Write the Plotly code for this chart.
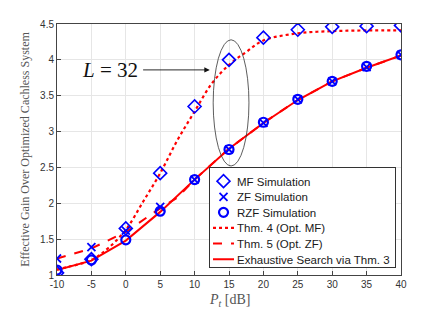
import plotly.graph_objects as go

pt_db = [-10, -5, 0, 5, 10, 15, 20, 25, 30, 35, 40]
mf_sim = [1.03, 1.22, 1.65, 2.42, 3.35, 4.00, 4.31, 4.42, 4.46, 4.47, 4.48]
zf_sim = [1.23, 1.39, 1.62, 1.95, 2.33, 2.75, 3.12, 3.45, 3.70, 3.90, 4.07]
rzf_sim = [1.07, 1.21, 1.49, 1.89, 2.33, 2.75, 3.13, 3.45, 3.70, 3.91, 4.07]

thm4_x = [-10, -5, -2.5, 0, 2.5, 5, 7.5, 10, 12.5, 15, 17.5, 20, 25, 30, 35, 40]
thm4_y = [1.08, 1.21, 1.38, 1.63, 2.02, 2.42, 2.88, 3.28, 3.67, 3.93, 4.11, 4.27, 4.37, 4.40, 4.41, 4.41]
thm5_x = [-10, -5, 0, 5, 7.5, 10, 15, 20, 25, 30, 35, 40]
thm5_y = [1.23, 1.37, 1.60, 1.93, 2.08, 2.33, 2.76, 3.12, 3.44, 3.70, 3.89, 4.06]
exh_y = [1.07, 1.20, 1.48, 1.88, 2.33, 2.76, 3.12, 3.44, 3.70, 3.89, 4.06]

x_ticks = [-10, -5, 0, 5, 10, 15, 20, 25, 30, 35, 40]
y_ticks = [1, 1.5, 2, 2.5, 3, 3.5, 4, 4.5]
y_tick_text = ["1", "1.5", "2", "2.5", "3", "3.5", "4", "4.5"]

red = "#FF0000"
blue = "#0000FF"

fig = go.Figure()
fig.add_trace(go.Scatter(x=thm4_x, y=thm4_y, mode="lines", name="Thm. 4 (Opt. MF)",
                         line=dict(color=red, width=2.2, dash="dot", shape="spline"), legendrank=4))
fig.add_trace(go.Scatter(x=thm5_x, y=thm5_y, mode="lines", name="Thm. 5 (Opt. ZF)",
                         line=dict(color=red, width=2, dash="dash"), legendrank=5))
fig.add_trace(go.Scatter(x=pt_db, y=exh_y, mode="lines", name="Exhaustive Search via Thm. 3",
                         line=dict(color=red, width=2), legendrank=6))
fig.add_trace(go.Scatter(x=pt_db, y=mf_sim, mode="markers", name="MF Simulation",
                         marker=dict(symbol="diamond-open", size=10, color=blue, line=dict(width=1.6, color=blue)), legendrank=1))
fig.add_trace(go.Scatter(x=pt_db, y=zf_sim, mode="markers", name="ZF Simulation",
                         marker=dict(symbol="x-thin-open", size=8, color=blue, line=dict(width=1.8, color=blue)), legendrank=2))
fig.add_trace(go.Scatter(x=pt_db, y=rzf_sim, mode="markers", name="RZF Simulation",
                         marker=dict(symbol="circle-open", size=9, color=blue, line=dict(width=2.2, color=blue)), legendrank=3))

fig.add_shape(type="circle", xref="x", yref="y", x0=12.7, x1=17.9, y0=2.52, y1=4.28,
              line=dict(color="#333333", width=0.8))
fig.add_annotation(x=12.2, y=3.86, ax=2.3, ay=3.86, xref="x", yref="y", axref="x", ayref="y",
                   text="", showarrow=True, arrowhead=2, arrowsize=1.2, arrowwidth=0.9, arrowcolor="#111111")
fig.add_annotation(x=2.0, y=3.86, xref="x", yref="y", xanchor="right", yanchor="middle",
                   text="<i>L</i> = 32", showarrow=False,
                   font=dict(family="Liberation Serif, DejaVu Serif, serif", size=21, color="#111111"))
fig.add_annotation(x=0.5, y=0, xref="paper", yref="paper", xanchor="center", yanchor="middle",
                   yshift=-25, text="<i>P</i><sub><i>t</i></sub> [dB]", showarrow=False,
                   font=dict(family="Liberation Serif, DejaVu Serif, serif", size=14, color="#555555"))

axis_common = dict(showgrid=True, gridcolor="#E6E6E6", gridwidth=1, zeroline=False,
                   showline=True, linecolor="#444444", linewidth=1, mirror=True,
                   ticks="inside", ticklen=4, tickcolor="#444444", automargin=False,
                   tickfont=dict(family="Liberation Sans, Arial, sans-serif", size=10, color="#333333"))

fig.update_xaxes(range=[-10, 40], tickvals=x_ticks, ticktext=[str(v) for v in x_ticks],
                 **axis_common)
fig.update_yaxes(range=[1, 4.5], tickvals=y_ticks, ticktext=y_tick_text,
                 title=dict(text="Effective Gain Over Optimized Cachless System", standoff=7,
                            font=dict(family="Liberation Serif, DejaVu Serif, serif", size=12, color="#555555")),
                 **axis_common)

# page body has an 8px default margin, so the figure is 8px smaller than the window
fig.update_layout(
    width=435, height=301,
    margin=dict(l=49, r=42, t=16, b=34),
    paper_bgcolor="white", plot_bgcolor="white",
    showlegend=True,
    legend=dict(x=0.9855, y=0.028, xanchor="right", yanchor="bottom",
                bgcolor="white", bordercolor="#333333", borderwidth=1,
                font=dict(family="Liberation Sans, Arial, sans-serif", size=11.5, color="#1a1a1a"),
                tracegroupgap=0, itemwidth=30),
)

# tighten the legend (Plotly enforces a 19px minimum row height and a 40px symbol column)
post_js = """
(function(){
  var gd = document.getElementById('{plot_id}');
  var leg = gd && gd.querySelector('.legend');
  if(!leg) return;
  var parse = function(el){
    var m = /translate\\(\\s*([-\\d.e]+)[ ,]+([-\\d.e]+)\\s*\\)/.exec(el.getAttribute('transform')||'');
    return m ? [parseFloat(m[1]), parseFloat(m[2])] : [0,0];
  };
  var items = Array.prototype.slice.call(leg.querySelectorAll('.traces'));
  if(items.length < 2) return;
  var pos = items.map(parse);
  var order = items.map(function(e,i){return i;}).sort(function(a,b){return pos[a][1]-pos[b][1];});
  var y0 = pos[order[0]][1];
  var oldStep = (pos[order[order.length-1]][1] - y0)/(order.length-1);
  var step = 15.6;
  var dx = 13;
  var extra = 5;
  if(oldStep > step){
    order.forEach(function(idx,k){
      items[idx].setAttribute('transform','translate('+pos[idx][0]+','+(y0-(oldStep-step)/2+k*step)+')');
    });
  }
  var delta = Math.max(0, (oldStep-step)*order.length) + extra;
  items.forEach(function(it){
    it.querySelectorAll('text.legendtext').forEach(function(t){
      var x = parseFloat(t.getAttribute('x')||'40');
      t.setAttribute('x', x-dx);
      t.querySelectorAll('tspan[x]').forEach(function(s){ s.setAttribute('x', parseFloat(s.getAttribute('x'))-dx); });
    });
    it.querySelectorAll('.legendlines path').forEach(function(p){ p.setAttribute('d','M3,0h21'); });
    it.querySelectorAll('.legendpoints path').forEach(function(p){
      var q = parse(p); p.setAttribute('transform','translate('+(q[0]-6.5)+','+q[1]+')');
    });
  });
  var bg = leg.querySelector('.bg');
  if(bg){
    bg.setAttribute('height', parseFloat(bg.getAttribute('height'))-delta);
    bg.setAttribute('width', parseFloat(bg.getAttribute('width'))-dx);
  }
  var lp = parse(leg);
  leg.setAttribute('transform','translate('+(lp[0]+dx)+','+(lp[1]+delta)+')');
})();
"""

fig.write_html("out.html", post_script=post_js)
